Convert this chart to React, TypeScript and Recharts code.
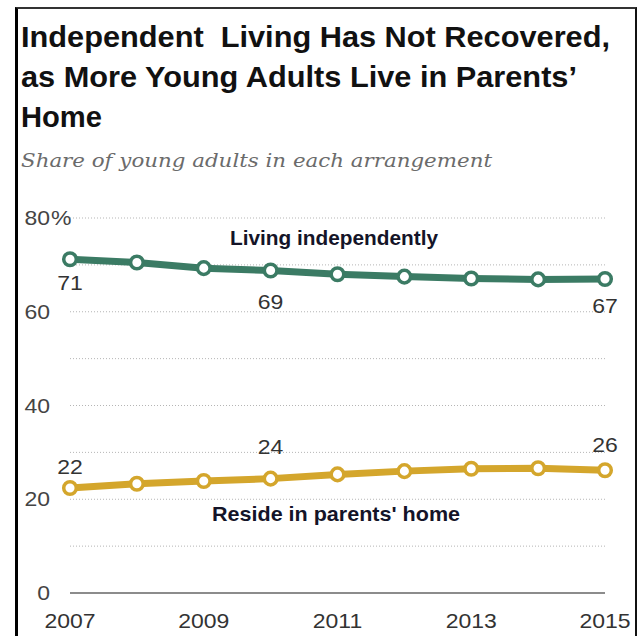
import React from "react";
import {
  LineChart,
  Line,
  XAxis,
  YAxis,
  CartesianGrid,
  ReferenceLine,
  LabelList,
} from "recharts";

// ---- data ----
const years = [2007, 2008, 2009, 2010, 2011, 2012, 2013, 2014, 2015];
const livingIndependently = [71.2, 70.5, 69.3, 68.8, 68.0, 67.5, 67.1, 66.9, 67.0];
const resideParents = [22.4, 23.3, 23.9, 24.4, 25.3, 26.0, 26.5, 26.6, 26.2];
const xTicks = [2007, 2009, 2011, 2013, 2015];
const yTicks = [0, 10, 20, 30, 40, 50, 60, 70, 80];
const yLabelTicks = [0, 20, 40, 60, 80];
const labelledIndices = [0, 3, 8];

const titleLines = [
  "Independent  Living Has Not Recovered,",
  "as More Young Adults Live in Parents\u2019",
  "Home",
];
const subtitle = "Share of young adults in each arrangement";
const seriesNames = ["Living independently", "Reside in parents' home"];

const data = years.map((y, i) => ({
  year: y,
  indep: livingIndependently[i],
  parents: resideParents[i],
}));

// ---- styles ----
const GREEN = "#3b7b64";
const GOLD = "#d4a62c";
const NUM_FONT = "'Liberation Sans', Arial, sans-serif";
const NUM_COLOR = "#333";

const NumText = ({ x, y, anchor = "middle", size = 20, sx = 1.15, fill = NUM_COLOR, children }: any) => (
  <text
    transform={`translate(${x},${y}) scale(${sx},1)`}
    textAnchor={anchor}
    fontSize={size}
    fontFamily={NUM_FONT}
    fill={fill}
  >
    {children}
  </text>
);

const YTick = (props: any) => {
  const { y, payload } = props;
  const v = payload.value;
  if (!yLabelTicks.includes(v)) return null;
  return (
    <g>
      <NumText x={50} y={y + 7} anchor="end" fill="#444">
        {String(v)}
      </NumText>
      {v === 80 ? (
        <NumText x={51} y={y + 7} anchor="start" fill="#444">
          %
        </NumText>
      ) : null}
    </g>
  );
};

const XTick = (props: any) => {
  const { x, payload } = props;
  return (
    <NumText x={x} y={628} anchor="middle" fill="#333">
      {String(payload.value)}
    </NumText>
  );
};

const indepOffsets: Record<number, number> = { 0: 31, 3: 38, 8: 34 };
const parentOffsets: Record<number, number> = { 0: -14, 3: -25, 8: -18 };

const makeLabel = (offsets: Record<number, number>) => (props: any) => {
  const { x, y, value, index } = props;
  if (!labelledIndices.includes(index)) return null;
  return (
    <NumText x={x} y={y + offsets[index]} anchor="middle" fill={NUM_COLOR}>
      {String(Math.round(value))}
    </NumText>
  );
};

export default function App() {
  return (
    <div
      style={{
        position: "absolute",
        left: 0,
        top: 0,
        width: 641,
        height: 636,
        background: "#fff",
        overflow: "hidden",
      }}
    >
      <div style={{ position: "absolute", left: 0, top: 0 }}>
        <LineChart
          width={641}
          height={636}
          data={data}
          margin={{ top: 218, right: 36, bottom: 0, left: 0 }}
        >
          <CartesianGrid
            vertical={false}
            stroke="#b5b5b5"
            strokeDasharray="1 2"
            strokeWidth={1}
          />
          <XAxis
            dataKey="year"
            type="number"
            domain={[2007, 2015]}
            ticks={xTicks}
            axisLine={false}
            tickLine={false}
            height={43}
            tick={<XTick />}
            interval={0}
          />
          <YAxis
            type="number"
            domain={[0, 80]}
            ticks={yTicks}
            axisLine={false}
            tickLine={false}
            width={70}
            tick={<YTick />}
            interval={0}
          />
          <ReferenceLine y={0} stroke="#8c8c8c" strokeWidth={2} />
          <Line
            dataKey="indep"
            stroke={GREEN}
            strokeWidth={7}
            dot={{ r: 6.3, fill: "#fff", stroke: GREEN, strokeWidth: 3.5 }}
            isAnimationActive={false}
          >
            <LabelList dataKey="indep" content={makeLabel(indepOffsets)} />
          </Line>
          <Line
            dataKey="parents"
            stroke={GOLD}
            strokeWidth={7}
            dot={{ r: 6.3, fill: "#fff", stroke: GOLD, strokeWidth: 3.5 }}
            isAnimationActive={false}
          >
            <LabelList dataKey="parents" content={makeLabel(parentOffsets)} />
          </Line>
        </LineChart>
      </div>
      <svg
        width={641}
        height={636}
        style={{ position: "absolute", left: 0, top: 0, pointerEvents: "none" }}
      >
        <g fontFamily="'Liberation Sans', Arial, sans-serif" fontWeight="bold" fontSize={30} fill="#111">
          <text x={21} y={47} textLength={589} lengthAdjust="spacingAndGlyphs" style={{ whiteSpace: "pre" }}>
            {titleLines[0]}
          </text>
          <text x={21} y={87} textLength={556} lengthAdjust="spacingAndGlyphs">
            {titleLines[1]}
          </text>
          <text x={21} y={127} textLength={81} lengthAdjust="spacingAndGlyphs">
            {titleLines[2]}
          </text>
        </g>
        <text
          x={21}
          y={167}
          fontFamily="'DejaVu Serif', Georgia, serif"
          fontStyle="italic"
          fontSize={19}
          fill="#6b6b6b"
          textLength={471}
          lengthAdjust="spacingAndGlyphs"
        >
          {subtitle}
        </text>
        <g fontFamily="'Liberation Sans', Arial, sans-serif" fontWeight="bold" fontSize={21} fill="#141428" textAnchor="middle">
          <text x={334} y={245} textLength={208} lengthAdjust="spacingAndGlyphs">
            {seriesNames[0]}
          </text>
          <text x={336} y={521} textLength={248} lengthAdjust="spacingAndGlyphs">
            {seriesNames[1]}
          </text>
        </g>
      </svg>
      <div
        style={{
          position: "absolute",
          left: 15,
          top: 7,
          width: 622,
          height: 700,
          boxSizing: "border-box",
          borderLeft: "3px solid #000",
          borderTop: "2px solid #333",
          borderRight: "2px solid #111",
          pointerEvents: "none",
        }}
      />
    </div>
  );
}
